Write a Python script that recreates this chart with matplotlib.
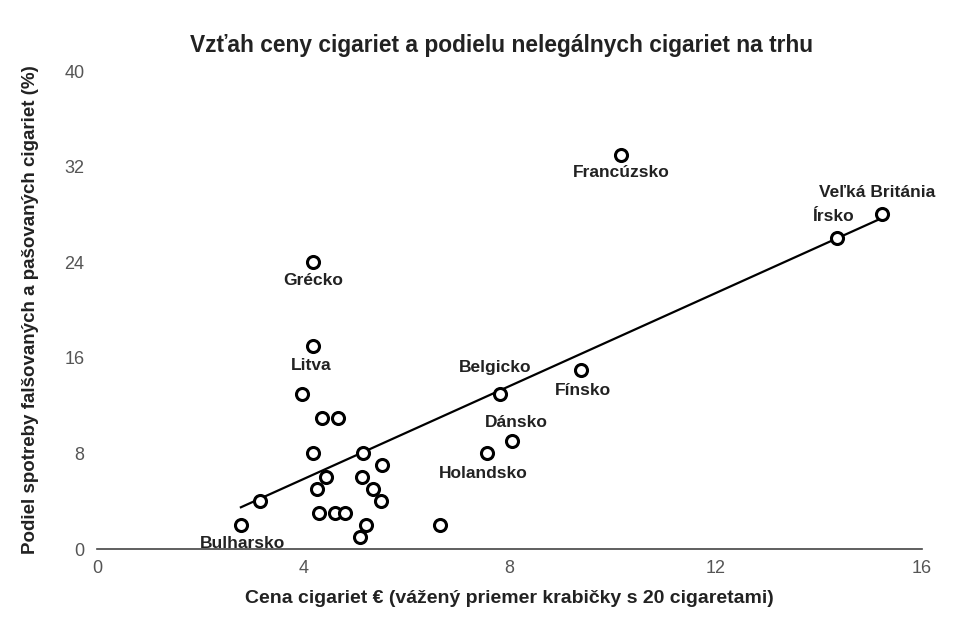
import matplotlib
matplotlib.use("Agg")
import matplotlib.pyplot as plt
import numpy as np

# data
price = [2.79, 3.16, 3.97, 4.19, 4.19, 4.19, 4.37, 4.68, 4.44, 4.26, 4.30, 4.62, 4.80,
         5.15, 5.13, 5.52, 5.36, 5.51, 5.21, 5.10, 6.66, 7.56, 8.04, 7.81, 9.38,
         10.16, 14.34, 15.23]
share = [2.0, 4.0, 13.0, 17.0, 24.0, 8.0, 11.0, 11.0, 6.0, 5.0, 3.0, 3.0, 3.0,
         8.0, 6.0, 7.0, 5.0, 4.0, 2.0, 1.0, 2.0, 8.0, 9.0, 13.0, 15.0,
         33.0, 26.0, 28.0]
names = ['Bulharsko', '', '', 'Litva', 'Grécko', '', '', '', '', '', '', '', '',
         '', '', '', '', '', '', '', '', 'Holandsko', 'Dánsko', 'Belgicko', 'Fínsko',
         'Francúzsko', 'Írsko', 'Veľká Británia']
# posun popisov v pixeloch
offsets = {'Bulharsko': (2, -18), 'Litva': (-2, -20), 'Grécko': (0, -18),
           'Holandsko': (-4, -20), 'Dánsko': (5, 19), 'Belgicko': (-5, 26),
           'Fínsko': (2, -21), 'Francúzsko': (0, -18), 'Írsko': (-4, 22),
           'Veľká Británia': (-5, 22)}

plt.rcParams['font.family'] = ['Liberation Sans', 'DejaVu Sans']

fig = plt.figure(figsize=(9.8, 6.35), dpi=100)
ax = fig.add_axes([0.099, 0.1354, 0.842, 0.7526])

# trend
k, q = np.polyfit(price, share, 1)
xs = np.array([min(price), max(price)])
ax.plot(xs, k * xs + q, color='black', lw=1.6, zorder=2)

ax.scatter(price, share, s=75, facecolors='white', edgecolors='black',
           linewidths=2.2, zorder=3)

for x, y, n in zip(price, share, names):
    if n:
        dx, dy = offsets[n]
        ax.annotate(n, (x, y), xytext=(dx, dy), textcoords='offset pixels',
                    ha='center', va='center', fontsize=12.5, fontweight='bold',
                    color='#222222')

ax.set_xlim(0, 16)
ax.set_ylim(0, 40)
ax.set_xticks([0, 4, 8, 12, 16])
ax.set_yticks([0, 8, 16, 24, 32, 40])
for s in ['top', 'right', 'left']:
    ax.spines[s].set_visible(False)
ax.spines['bottom'].set_color('#444444')
ax.spines['bottom'].set_linewidth(1.2)
ax.tick_params(length=0, labelsize=13, colors='#555555')
ax.tick_params(axis='x', pad=8)
ax.tick_params(axis='y', pad=9)

ax.set_title('Vzťah ceny cigariet a podielu nelegálnych cigariet na trhu',
             fontsize=16.4, fontweight='bold', color='#222222', pad=14, x=0.49)
ax.set_xlabel('Cena cigariet € (vážený priemer krabičky s 20 cigaretami)',
              fontsize=14, fontweight='bold', color='#222222', labelpad=9)
ax.set_ylabel('Podiel spotreby falšovaných a pašovaných cigariet (%)',
              fontsize=13.5, fontweight='bold', color='#222222', labelpad=18)

fig.savefig('out.png', dpi=100)
